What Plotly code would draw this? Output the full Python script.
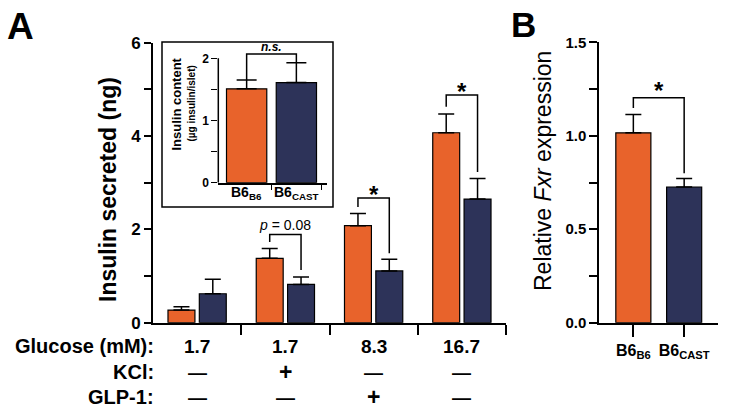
import plotly.graph_objects as go

# ---------------- data ----------------
glucose_mM = ["1.7", "1.7", "8.3", "16.7"]
kcl = ["\u2014", "+", "\u2014", "\u2014"]
glp1 = ["\u2014", "\u2014", "+", "\u2014"]

secreted_b6b6 = [0.27, 1.38, 2.08, 4.07]
secreted_b6b6_sem = [0.07, 0.21, 0.26, 0.40]
secreted_b6cast = [0.62, 0.82, 1.11, 2.65]
secreted_b6cast_sem = [0.31, 0.16, 0.25, 0.44]

# significance brackets on panel A: category index, bracket height, left leg end, right leg end, label
sig_cat = [1, 2, 3]
sig_top = [1.89, 2.67, 4.88]
sig_left = [1.73, 2.48, 4.63]
sig_right = [1.13, 1.49, 3.23]
sig_label = ["<i>p</i> = 0.08", "*", "*"]

strains = ["B6<sub>B6</sub>", "B6<sub>CAST</sub>"]
content = [1.51, 1.61]
content_sem = [0.14, 0.32]
content_sig = [2.07, 1.65, 1.93]  # top, left end, right end

fxr = [1.016, 0.726]
fxr_sem = [0.098, 0.045]
fxr_sig = [1.203, 1.148, 0.80]

ORANGE = "#E8632B"
NAVY = "#2D3359"
FONT = "Liberation Sans, Arial, sans-serif"

W, H = 729, 411
def fx(px):
    return px / W
def fy(py):
    return 1 - py / H

BARGAP = 0.29
BARGROUPGAP = 0.14
slot = (1 - BARGAP) / 2
off = slot / 2

fig = go.Figure()
xs = list(range(len(glucose_mM)))
fig.add_trace(go.Bar(x=xs, y=secreted_b6b6, marker=dict(color=ORANGE, line=dict(color="black", width=1.2)),
                     error_y=dict(type="data", array=secreted_b6b6_sem, arrayminus=[0] * 4, symmetric=False,
                                  color="black", thickness=1.5, width=8),
                     xaxis="x", yaxis="y", showlegend=False))
fig.add_trace(go.Bar(x=xs, y=secreted_b6cast, marker=dict(color=NAVY, line=dict(color="black", width=1.2)),
                     error_y=dict(type="data", array=secreted_b6cast_sem, arrayminus=[0] * 4, symmetric=False,
                                  color="black", thickness=1.5, width=8),
                     xaxis="x", yaxis="y", showlegend=False))
fig.add_trace(go.Bar(x=[0, 1], y=content, width=0.81,
                     marker=dict(color=[ORANGE, NAVY], line=dict(color="black", width=1.2)),
                     error_y=dict(type="data", array=content_sem, arrayminus=[0, 0], symmetric=False,
                                  color="black", thickness=1.5, width=10),
                     xaxis="x2", yaxis="y2", showlegend=False))
fig.add_trace(go.Bar(x=[0, 1], y=fxr, width=0.69,
                     marker=dict(color=[ORANGE, NAVY], line=dict(color="black", width=1.2)),
                     error_y=dict(type="data", array=fxr_sem, arrayminus=[0, 0], symmetric=False,
                                  color="black", thickness=1.5, width=8),
                     xaxis="x3", yaxis="y3", showlegend=False))

shapes = []
annotations = []
def bracket(xref, yref, x0, x1, top, left, right):
    shapes.append(dict(type="path", xref=xref, yref=yref,
                       path=f"M {x0},{left} L {x0},{top} L {x1},{top} L {x1},{right}",
                       line=dict(color="black", width=1.5)))

def label(x, y, text, size, xref="paper", yref="paper", xanchor="center", yanchor="middle", angle=0, **kw):
    annotations.append(dict(x=x, y=y, xref=xref, yref=yref, text=text, showarrow=False, textangle=angle,
                            xanchor=xanchor, yanchor=yanchor, font=dict(size=size, family=FONT, color="black"),
                            **kw))

for c, t, l, r, lab in zip(sig_cat, sig_top, sig_left, sig_right, sig_label):
    bracket("x", "y", c - off, c + off, t, l, r)
    if lab == "*":
        label(c, t, "<b>*</b>", 24, xref="x", yref="y", yanchor="bottom", yshift=-12)
    else:
        label(c, t, lab, 14, xref="x", yref="y", yanchor="bottom", yshift=0)

bracket("x2", "y2", 0, 1, *content_sig)
label(0.5, content_sig[0], "<b><i>n.s.</i></b>", 12, xref="x2", yref="y2", yanchor="bottom", yshift=-2)
bracket("x3", "y3", 0, 1, *fxr_sig)
label(0.5, fxr_sig[0], "<b>*</b>", 24, xref="x3", yref="y3", yanchor="bottom", yshift=-8)

# inset y-axis line (stops at 2 like the original)
shapes.append(dict(type="line", xref="x2 domain", yref="y2", x0=0, x1=0, y0=0, y1=2,
                   line=dict(color="black", width=1.5)))
# inset frame
shapes.append(dict(type="rect", xref="paper", yref="paper", x0=fx(162), x1=fx(333), y0=fy(207), y1=fy(42),
                   line=dict(color="black", width=1.5)))

# bottom condition rows
rows = [("Glucose (mM):", glucose_mM, 346), ("KCl:", kcl, 372), ("GLP-1:", glp1, 397)]
for lab, vals, py in rows:
    label(fx(156), fy(py), f"<b>{lab}</b>", 20, xanchor="right")
    for i, v in enumerate(vals):
        label(i, fy(py), f"<b>{v}</b>", 23 if v == "+" else 19, xref="x", borderpad=0)

# inset x labels
for i, s in enumerate(strains):
    label(i, fy(193), f"<b>{s}</b>", 14, xref="x2")

# titles
label(fx(108), fy(190), "<b>Insulin secreted (ng)</b>", 23, angle=-90)
label(fx(175.5), fy(104), "<b>Insulin content</b>", 13, angle=-90)
label(fx(190.5), fy(103), "<b>(\u00b5g insulin/islet)</b>", 10, angle=-90)
label(fx(543), fy(171), "Relative <i>Fxr</i> expression", 23, angle=-90)
label(fx(20), fy(26), "<b>A</b>", 37)
label(fx(523), fy(24), "<b>B</b>", 35)

def ax(size, **kw):
    d = dict(showgrid=False, zeroline=False, linecolor="black", tickcolor="black", automargin=False,
             ticks="outside", tickfont=dict(family=FONT, color="black", weight="bold", size=size))
    d.update(kw)
    return d

fig.update_layout(
    template="none",
    width=W, height=H, autosize=False,
    margin=dict(l=0, r=0, t=0, b=0, pad=0),
    paper_bgcolor="white", plot_bgcolor="rgba(0,0,0,0)",
    barmode="group", bargap=BARGAP, bargroupgap=BARGROUPGAP,
    font=dict(family=FONT, color="black"),
    xaxis=ax(12, domain=[fx(153), fx(506)], range=[-0.5, 3.5], anchor="y", showline=True, linewidth=2,
             tickvals=[0.5, 1.5, 2.5, 3.5], ticklen=10, tickwidth=1.5, showticklabels=False),
    yaxis=ax(17, domain=[fy(322.7), fy(42.7)], range=[0, 6], anchor="x", showline=True, linewidth=2,
             tickmode="linear", tick0=0, dtick=2, ticklen=7, tickwidth=1.5,
             minor=dict(tickmode="linear", tick0=0, dtick=1, ticks="outside", ticklen=7, tickwidth=1.5,
                        tickcolor="black")),
    xaxis2=ax(12, domain=[fx(218.3), fx(326.7)], range=[-0.57, 1.61], anchor="y2", showline=True,
              linewidth=1.5, tickvals=[0.5, 1.5], ticklen=6, tickwidth=1.2, showticklabels=False),
    yaxis2=ax(12, domain=[fy(182.7), fy(182.7 - 2.2 * 62.2)], range=[0, 2.2], anchor="x2", showline=False,
              tickvals=[0, 1, 2], ticklen=6, tickwidth=1.2,
              minor=dict(tickvals=[0.5, 1.5], ticks="outside", ticklen=6, tickwidth=1.2, tickcolor="black")),
    xaxis3=ax(16, domain=[fx(599.3), fx(717.7)], range=[-0.67, 1.66], anchor="y3", showline=True, linewidth=2,
              tickvals=[0, 1], ticktext=[f"<b>{s}</b>" for s in strains], ticklen=12, tickwidth=1.5),
    yaxis3=ax(15, domain=[fy(322.7), fy(42.3)], range=[0, 1.5], anchor="x3", showline=True, linewidth=2,
              tickmode="linear", tick0=0, dtick=0.5, tickformat=".1f", ticklen=8, tickwidth=1.5,
              minor=dict(tickmode="linear", tick0=0, dtick=0.25, ticks="outside", ticklen=8, tickwidth=1.5,
                         tickcolor="black")),
    shapes=shapes, annotations=annotations,
)

fig.write_html("out.html", config={"displayModeBar": False},
               post_script="document.body.style.margin='0';document.body.style.overflow='hidden';")
